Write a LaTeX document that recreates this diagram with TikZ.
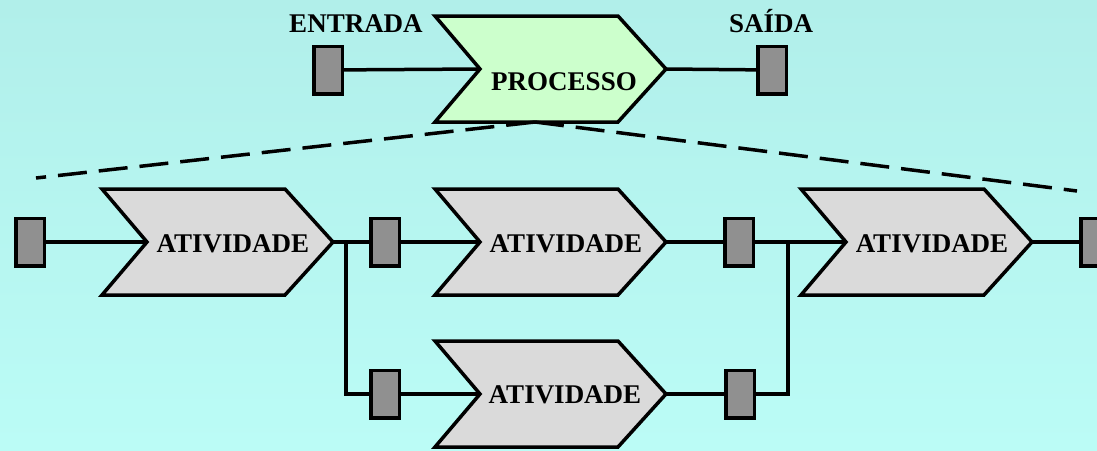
\documentclass[tikz,border=0pt]{standalone}
\usepackage{fontspec}
\setmainfont{Liberation Serif}

\definecolor{bgtop}{RGB}{177,239,234}
\definecolor{bgbottom}{RGB}{187,252,246}
\definecolor{procgreen}{RGB}{204,255,204}
\definecolor{actgray}{RGB}{218,218,218}
\definecolor{portgray}{RGB}{144,144,144}

\tikzset{
  chevron/.pic={
    \path[draw,line width=3.5pt,fill=#1] (-131,-53) -- (52,-53) -- (100,0) -- (52,53) -- (-131,53) -- (-86,0) -- cycle;
    \coordinate (-in) at (-86,0);
    \coordinate (-out) at (100,0);
  }
}

\begin{document}
\begin{tikzpicture}[x=1pt,y=-1pt,
    lbl/.style={font=\fontsize{27}{31}\selectfont\bfseries,anchor=base,inner sep=0},
    port/.style={draw,line width=3.5pt,fill=portgray,minimum width=28.5pt,minimum height=47.5pt,inner sep=0},
    conn/.style={line width=3.5pt},
    zoomline/.style={line width=3.5pt,dash pattern=on 29pt off 12pt}]
    \useasboundingbox (0,0) rectangle (1097,450);
    \fill[top color=bgtop,bottom color=bgbottom] (0,0) rectangle (1097,450);

    % process and its activities
    \pic (p) at (566,69) {chevron=procgreen};
    \pic (a1) at (233,242) {chevron=actgray};
    \pic (a2) at (566,242) {chevron=actgray};
    \pic (a3) at (932,242) {chevron=actgray};
    \pic (a4) at (566,394) {chevron=actgray};

    \coordinate (apex) at (535,122);
    \coordinate (dl) at (36,178);
    \coordinate (dr) at (1077,191);
    \draw[zoomline] (apex) -- (dl);
    \draw[zoomline] (apex) -- (dr);

    \node[lbl] (tin) at (356,32) {ENTRADA};
    \node[lbl] (tout) at (771,32) {SAÍDA};
    \node[lbl] (tp) at (564,90) {PROCESSO};
    \node[lbl] (t1) at (233,252) {ATIVIDADE};
    \node[lbl] (t2) at (566,252) {ATIVIDADE};
    \node[lbl] (t3) at (932,252) {ATIVIDADE};
    \node[lbl] (t4) at (565,403) {ATIVIDADE};

    % ports
    \node[port] (e) at (328,70) {};
    \node[port] (s) at (772,70) {};
    \node[port] (b1) at (30,242) {};
    \node[port] (b2) at (385,242) {};
    \node[port] (b3) at (739,242) {};
    \node[port] (b4) at (1095,242) {};
    \node[port] (b5) at (385,394) {};
    \node[port] (b6) at (740,394) {};

    \coordinate (j1) at (346,242);
    \coordinate (j2) at (788,242);

    \draw[conn] (e) -- (p-in);
    \draw[conn] (p-out) -- (s);
    \draw[conn] (b1) -- (a1-in);
    \draw[conn] (a1-out) -- (b2);
    \draw[conn] (b2) -- (a2-in);
    \draw[conn] (a2-out) -- (b3);
    \draw[conn] (b3) -- (a3-in);
    \draw[conn] (a3-out) -- (b4);
    \draw[conn] (j1) |- (b5);
    \draw[conn] (b5) -- (a4-in);
    \draw[conn] (a4-out) -- (b6);
    \draw[conn] (b6) -| (j2);
\end{tikzpicture}
\end{document}
